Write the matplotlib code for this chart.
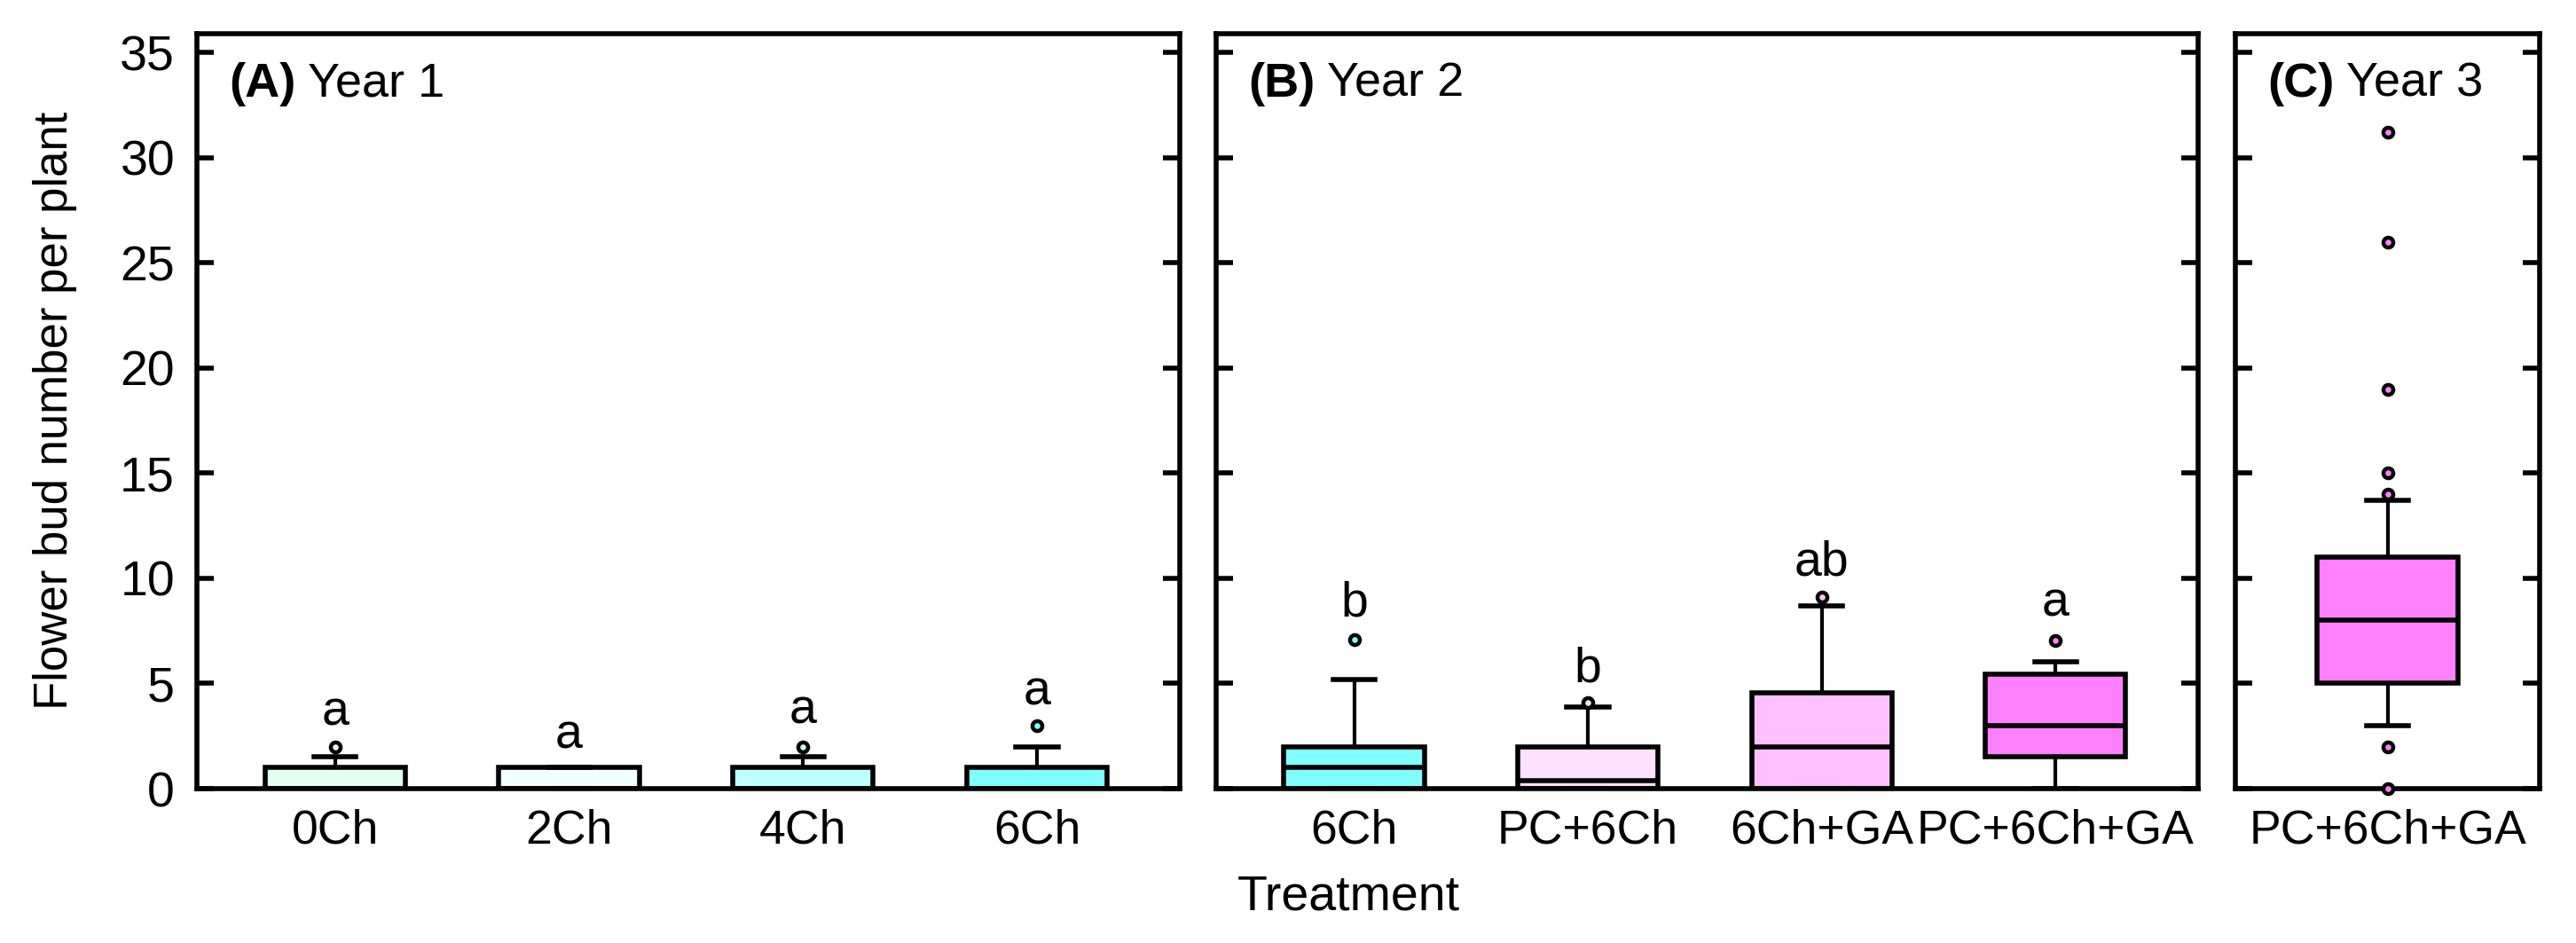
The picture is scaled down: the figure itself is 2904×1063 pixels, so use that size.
import matplotlib
matplotlib.use('Agg')
import matplotlib.pyplot as plt

plt.rcParams['font.family'] = ['Liberation Sans', 'DejaVu Sans']

# ---------------- data ----------------
A_labels = ['0Ch', '2Ch', '4Ch', '6Ch']
A_q1 = [0, 0, 0, 0]
A_med = [0, 0, 0, 0]
A_q3 = [1, 1, 1, 1]
A_whislo = [0, 0, 0, 0]
A_whishi = [1.5, 1, 1.5, 2]
A_fliers = [[2], [], [2], [3]]
A_letters = ['a', 'a', 'a', 'a']
A_letter_y = [3.0, 1.9, 3.1, 4.0]
A_colors = ['#E2FFF0', '#F0FFFF', '#C0FFFF', '#80FFFF']

B_labels = ['6Ch', 'PC+6Ch', '6Ch+GA', 'PC+6Ch+GA']
B_q1 = [0, 0, 0, 1.5]
B_med = [1, 0.4, 2, 3]
B_q3 = [2, 2, 4.55, 5.45]
B_whislo = [0, 0, 0, 0]
B_whishi = [5.2, 3.9, 8.7, 6.05]
B_fliers = [[7.1], [4.1], [9.1], [7.05]]
B_letters = ['b', 'b', 'ab', 'a']
B_letter_y = [8.2, 5.1, 10.15, 8.2]
B_colors = ['#80FFFF', '#FFE0FF', '#FFC0FF', '#FF80FF']

C_labels = ['PC+6Ch+GA']
C_q1 = [5]
C_med = [8]
C_q3 = [11]
C_whislo = [3]
C_whishi = [13.7]
C_fliers = [[0, 2, 14.0, 15.0, 19.0, 26.0, 31.2]]
C_letters = []
C_letter_y = []
C_colors = ['#FF80FF']

panel_tags = ['(A)', '(B)', '(C)']
panel_names = [' Year 1', ' Year 2', ' Year 3']
yticks = [0, 5, 10, 15, 20, 25, 30, 35]

# ---------------- figure ----------------
W, H = 2904, 1063
fig = plt.figure(figsize=(W / 100, H / 100), dpi=100)
top_px, bot_px = 38, 889


def add_ax(l, r):
    return fig.add_axes([l / W, 1 - bot_px / H, (r - l) / W, (bot_px - top_px) / H])


FS = 40
XFS = 38.5


def draw_panel(ax, labels, q1, med, q3, lo, hi, fl, colors, letters, letter_y, xlim, tag, name,
               first=False):
    stats = [dict(label=labels[i], q1=q1[i], med=med[i], q3=q3[i], whislo=lo[i], whishi=hi[i],
                  fliers=fl[i]) for i in range(len(labels))]
    pos = list(range(len(labels)))
    res = ax.bxp(stats, positions=pos, widths=0.6, capwidths=0.18, patch_artist=True,
                 boxprops=dict(linewidth=4.0, edgecolor='black'),
                 medianprops=dict(color='black', linewidth=4.0, solid_capstyle='butt'),
                 whiskerprops=dict(color='black', linewidth=3.0),
                 capprops=dict(color='black', linewidth=4.0),
                 flierprops=dict(marker='o', markersize=8, markeredgewidth=3.2,
                                 markeredgecolor='black', linestyle='none'))
    for b, c in zip(res['boxes'], colors):
        b.set_facecolor(c)
    for f, c in zip(res['fliers'], colors):
        f.set_markerfacecolor(c)
        f.set_zorder(4)
        f.set_clip_on(False)
    for i, (t, y) in enumerate(zip(letters, letter_y)):
        ax.text(pos[i], y, t, ha='center', va='baseline', fontsize=FS)
    ax.set_xlim(*xlim)
    ax.set_ylim(0, 35.9)
    ax.set_yticks(yticks)
    ax.set_xticks(pos)
    ax.set_xticklabels(labels, fontsize=XFS)
    ax.tick_params(axis='y', direction='in', left=True, right=True, length=14, width=4.0,
                   labelleft=first, labelright=False, labelsize=FS, pad=18)
    ax.tick_params(axis='x', length=0, pad=16)
    for s in ax.spines.values():
        s.set_linewidth(4.0)
    t1 = ax.annotate(tag, xy=(0, 1), xycoords='axes fraction', xytext=(26, -41),
                     textcoords='offset points', ha='left', va='center', fontsize=FS - 1,
                     fontweight='bold')
    ax.annotate(name, xy=(1, 0), xycoords=t1, ha='left', va='bottom', fontsize=FS - 1)


axA = add_ax(222, 1330)
axB = add_ax(1371, 2478)
axC = add_ax(2520, 2863)

draw_panel(axA, A_labels, A_q1, A_med, A_q3, A_whislo, A_whishi, A_fliers, A_colors,
           A_letters, A_letter_y, (-0.59, 3.61), panel_tags[0], panel_names[0], first=True)
draw_panel(axB, B_labels, B_q1, B_med, B_q3, B_whislo, B_whishi, B_fliers, B_colors,
           B_letters, B_letter_y, (-0.59, 3.61), panel_tags[1], panel_names[1])
draw_panel(axC, C_labels, C_q1, C_med, C_q3, C_whislo, C_whishi, C_fliers, C_colors,
           C_letters, C_letter_y, (-0.65, 0.65), panel_tags[2], panel_names[2])

fig.text(62 / W, 1 - 463 / H, 'Flower bud number per plant', rotation=90, ha='center',
         va='center', fontsize=38)
fig.text(1520 / W, 1 - 1011 / H, 'Treatment', ha='center', va='center', fontsize=40)

fig.savefig('out.png', dpi=100)
